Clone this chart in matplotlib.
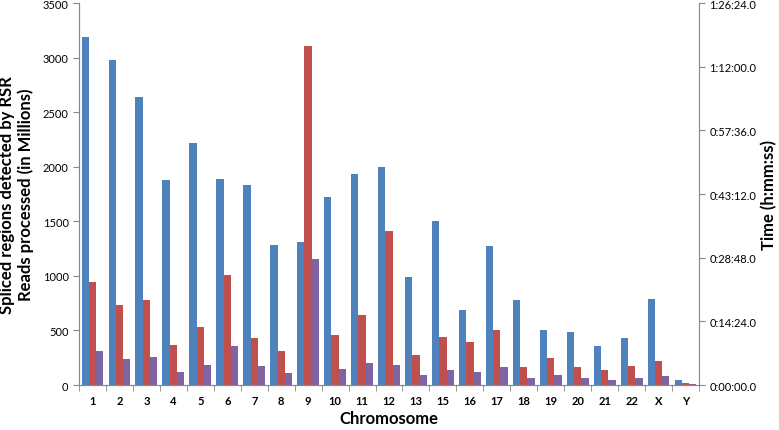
import numpy as np
import matplotlib.pyplot as plt
from matplotlib.ticker import FuncFormatter, FixedLocator

# --- data ---
chromosomes = ['1', '2', '3', '4', '5', '6', '7', '8', '9', '10', '11', '12',
               '13', '15', '16', '17', '18', '19', '20', '21', '22', 'X', 'Y']
spliced_regions = [3190, 2980, 2640, 1880, 2215, 1885, 1835, 1280, 1310, 1720, 1930, 1995,
                   985, 1500, 687, 1274, 779, 504, 486, 357, 431, 788, 46]
reads_millions = [945, 735, 775, 370, 535, 1005, 430, 310, 3110, 455, 645, 1410,
                  278, 440, 391, 504, 165, 247, 165, 134, 174, 220, 18]
time_seconds = [467, 348, 378, 178, 274, 526, 259, 163, 1711, 215, 304, 274,
                130, 209, 182, 244, 90, 142, 90, 68, 95, 121, 7]

right_ticks = [0, 864, 1728, 2592, 3456, 4320, 5184]

plt.rcParams['font.family'] = ['Lato', 'DejaVu Sans']

fig = plt.figure(figsize=(7.79, 4.31), dpi=100)
ax1 = fig.add_axes([0.1014, 0.1044, 0.7959, 0.8863])
ax2 = ax1.twinx()

x = np.arange(len(chromosomes))
w = 0.27
ax1.bar(x - w, spliced_regions, w, color='#4F81BD', zorder=2)
ax1.bar(x, reads_millions, w, color='#C0504D', zorder=2)
ax2.bar(x + w, time_seconds, w, color='#8064A2', zorder=2)

ax1.set_xlim(-0.5, len(chromosomes) - 0.5)
ax1.set_ylim(0, 3500)
ax2.set_ylim(0, 5184)
ax1.set_yticks(range(0, 3501, 500))
ax2.set_yticks(right_ticks)


def hms(v, pos):
    v = int(round(v))
    return f"{v // 3600}:{(v % 3600) // 60:02d}:{v % 60:02d}.0"


ax2.yaxis.set_major_formatter(FuncFormatter(hms))

ax1.set_xticks(x)
ax1.set_xticklabels(chromosomes, fontweight='bold', fontsize=8)
ax1.xaxis.set_minor_locator(FixedLocator(np.arange(-0.5, len(chromosomes), 1.0)))
ax1.tick_params(axis='x', which='major', length=0, pad=7)
ax1.tick_params(axis='x', which='minor', length=4, color='#888888', direction='out')
ax1.tick_params(axis='y', labelsize=8, length=4, color='#888888')
ax2.tick_params(axis='y', labelsize=8, length=4, color='#888888')

for ax in (ax1, ax2):
    ax.spines['top'].set_visible(False)
    for s in ('left', 'right', 'bottom'):
        ax.spines[s].set_color('#888888')
ax1.spines['right'].set_visible(False)

ax1.set_ylabel('Spliced regions detected by RSR\nReads processed (in Millions)',
               fontsize=12, fontweight='bold', labelpad=6)
ax1.set_xlabel('Chromosome', fontsize=12, fontweight='bold', labelpad=3)
ax2.set_ylabel('Time (h:mm:ss)', fontsize=12, fontweight='bold', labelpad=3)

fig.savefig('out.png', dpi=100)
plt.close(fig)
